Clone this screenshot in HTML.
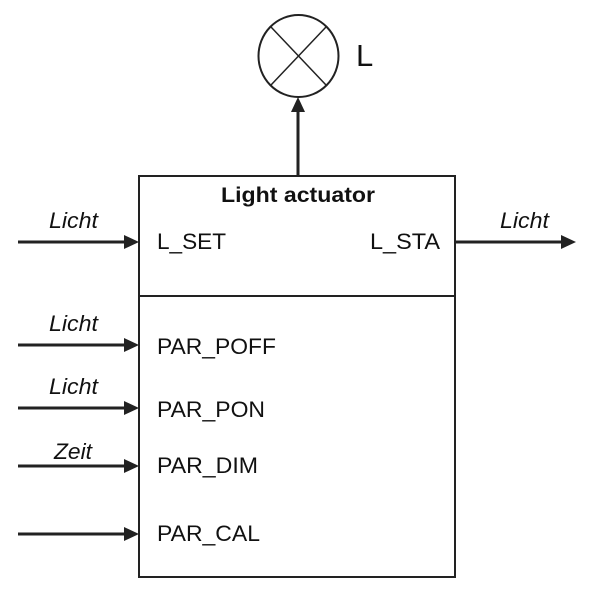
<!DOCTYPE html>
<html><head><style>body{margin:0;background:#fff}</style></head><body>
<svg width="600" height="590" viewBox="0 0 600 590" xmlns="http://www.w3.org/2000/svg" font-family="Liberation Sans, Arial, sans-serif">
<rect width="600" height="590" fill="#fff"/>
<ellipse cx="298.5" cy="56" rx="40" ry="41" fill="none" stroke="#222" stroke-width="2"/>
<line x1="271" y1="27" x2="326" y2="85" stroke="#222" stroke-width="1.5"/>
<line x1="326" y1="27" x2="271" y2="85" stroke="#222" stroke-width="1.5"/>
<text x="356" y="66" font-size="31" fill="#111" textLength="18">L</text>
<line x1="298" y1="176" x2="298" y2="110" stroke="#222" stroke-width="3"/>
<polygon points="298,97 291,112 305,112" fill="#222"/>
<rect x="139" y="176" width="316" height="401" fill="none" stroke="#222" stroke-width="2"/>
<line x1="139" y1="296" x2="455" y2="296" stroke="#222" stroke-width="2"/>
<text x="221" y="202" font-size="21" font-weight="bold" fill="#111" textLength="154" lengthAdjust="spacingAndGlyphs">Light actuator</text>
<text x="157" y="249" font-size="22" fill="#111" textLength="69" lengthAdjust="spacingAndGlyphs">L_SET</text>
<text x="370" y="249" font-size="22" fill="#111" textLength="70" lengthAdjust="spacingAndGlyphs">L_STA</text>
<g stroke="#222" stroke-width="3">
<line x1="18" y1="242" x2="126" y2="242"/>
<line x1="455" y1="242" x2="562" y2="242"/>
<line x1="18" y1="345" x2="126" y2="345"/>
<line x1="18" y1="408" x2="126" y2="408"/>
<line x1="18" y1="466" x2="126" y2="466"/>
<line x1="18" y1="534" x2="126" y2="534"/>
</g>
<g fill="#222">
<polygon points="139,242 124,235 124,249"/>
<polygon points="576,242 561,235 561,249"/>
<polygon points="139,345 124,338 124,352"/>
<polygon points="139,408 124,401 124,415"/>
<polygon points="139,466 124,459 124,473"/>
<polygon points="139,534 124,527 124,541"/>
</g>
<g font-size="22" font-style="italic" fill="#111" lengthAdjust="spacingAndGlyphs">
<text x="49" y="228" textLength="49" lengthAdjust="spacingAndGlyphs">Licht</text>
<text x="500" y="228" textLength="49" lengthAdjust="spacingAndGlyphs">Licht</text>
<text x="49" y="331" textLength="49" lengthAdjust="spacingAndGlyphs">Licht</text>
<text x="49" y="394" textLength="49" lengthAdjust="spacingAndGlyphs">Licht</text>
<text x="54" y="459" textLength="38" lengthAdjust="spacingAndGlyphs">Zeit</text>
</g>
<g font-size="22" fill="#111">
<text x="157" y="354" textLength="119" lengthAdjust="spacingAndGlyphs">PAR_POFF</text>
<text x="157" y="417" textLength="108" lengthAdjust="spacingAndGlyphs">PAR_PON</text>
<text x="157" y="473" textLength="101" lengthAdjust="spacingAndGlyphs">PAR_DIM</text>
<text x="157" y="541" textLength="103" lengthAdjust="spacingAndGlyphs">PAR_CAL</text>
</g>
</svg>
</body></html>
